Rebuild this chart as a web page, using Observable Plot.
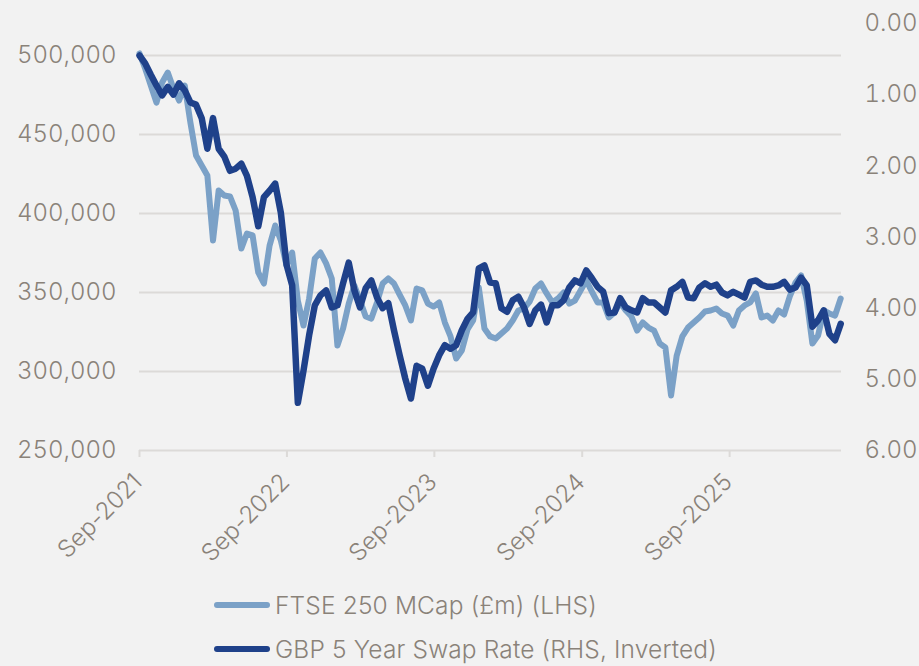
<!DOCTYPE html>
<html>
<head>
<meta charset="utf-8">
<script src="https://cdn.jsdelivr.net/npm/d3@7"></script>
<script src="https://cdn.jsdelivr.net/npm/@observablehq/plot@0.6"></script>
<style>
  html, body { margin: 0; padding: 0; background: #f2f2f2; }
  body { font-family: Inter, "DejaVu Sans", sans-serif; font-weight: 350; color: #8a8279; width: 919px; }
  #legend { padding-left: 214px; margin-top: 3px; }
  #legend .row { height: 44px; display: flex; align-items: center; font-size: 24.5px; letter-spacing: 0.15px; white-space: nowrap; }
  #legend .sw { width: 56px; height: 6px; border-radius: 3px; margin-right: 5px; flex: none; }
</style>
</head>
<body>
<div id="chart"></div>
<div id="legend"></div>
<script>
// Fortnightly observations starting 1 Sep 2021
const startDate = "2021-09-01";
const stepDays = 14;

// FTSE 250 market capitalisation, £m (left axis)
const ftseMcap = [
  501300, 491800, 481000, 470200, 482900, 489200, 479100, 471500, 481000, 457600,
  436700, 430400, 424000, 382900, 414600, 411400, 410800, 401900, 377800, 387300,
  386100, 362700, 355700, 379700, 392400, 382900, 367100, 375300, 344900, 329100,
  346200, 371500, 375300, 368400, 358900, 316500, 327200, 343000, 354400, 344900,
  334800, 333500, 343700, 355700, 358900, 355700, 348700, 341800, 332300, 352500,
  351300, 343000, 341100, 343700, 331000, 322200, 308200, 313300, 326600, 332300,
  353200, 327200, 322200, 320900, 324100, 327200, 332300, 338600, 339900, 344300,
  352500, 355700, 349400, 343700, 346200, 350000, 343000, 344900, 351300, 357600,
  350600, 343700, 343700, 334200, 337300, 343700, 338600, 334800, 325900, 331000,
  327800, 325900, 317700, 315200, 284800, 310100, 322200, 327800, 331000, 334200,
  338000, 338600, 339900, 336700, 335400, 329100, 338600, 341800, 343700, 349400,
  334200, 335400, 332300, 338600, 336100, 347500, 356300, 360800, 344900, 317700,
  322800, 338600, 336700, 335400, 346200
];

// GBP 5 year swap rate, % (right axis, inverted)
const swapRate = [
  0.45, 0.56, 0.72, 0.87, 1.01, 0.89, 1.00, 0.84, 0.94, 1.11,
  1.14, 1.33, 1.76, 1.33, 1.76, 1.87, 2.07, 2.04, 1.97, 2.14,
  2.44, 2.85, 2.44, 2.35, 2.25, 2.66, 3.39, 3.68, 5.33, 4.88,
  4.38, 3.96, 3.82, 3.75, 3.99, 3.96, 3.65, 3.36, 3.75, 3.99,
  3.72, 3.61, 3.85, 4.00, 3.93, 4.31, 4.66, 4.99, 5.27, 4.81,
  4.85, 5.09, 4.85, 4.66, 4.52, 4.57, 4.52, 4.31, 4.15, 4.06,
  3.44, 3.40, 3.64, 3.65, 4.00, 4.05, 3.89, 3.84, 3.99, 4.22,
  4.03, 3.95, 4.20, 3.96, 3.96, 3.89, 3.71, 3.61, 3.65, 3.47,
  3.58, 3.70, 3.77, 4.07, 4.06, 3.86, 3.99, 4.03, 4.06, 3.86,
  3.92, 3.92, 3.99, 4.06, 3.75, 3.70, 3.63, 3.85, 3.86, 3.71,
  3.65, 3.70, 3.67, 3.78, 3.82, 3.77, 3.81, 3.85, 3.63, 3.61,
  3.67, 3.70, 3.70, 3.68, 3.63, 3.74, 3.71, 3.57, 3.68, 4.26,
  4.17, 4.03, 4.36, 4.45, 4.22
];

// Axis ticks and labels
const leftTicks = [250000, 300000, 350000, 400000, 450000, 500000];
const rightTicks = [0, 1, 2, 3, 4, 5, 6];
const xTickDates = ["2021-09-01", "2022-09-01", "2023-09-01", "2024-09-01", "2025-09-01"];
const xTickLabels = ["Sep-2021", "Sep-2022", "Sep-2023", "Sep-2024", "Sep-2025"];

const seriesNames = ["FTSE 250 MCap (£m) (LHS)", "GBP 5 Year Swap Rate (RHS, Inverted)"];
const seriesColors = ["#7ba1c7", "#1f418a"];

const textColor = "#8a8279";
const gridColor = "#dcdad8";
const fontStack = "Inter, DejaVu Sans, sans-serif";

// Layout of the two vertical scales
const W = 919, H = 580;
const frame = {left: 139, right: 841, bottom: 450};
const leftDomain = [250000, 500000], leftRange = [450, 55];
const rightDomain = [0, 6], rightRange = [23, 450]; // inverted: 0 at top

const leftScale = d3.scaleLinear(leftDomain, leftRange);
const rightScale = d3.scaleLinear(rightDomain, rightRange);
const rateToLeft = r => leftScale.invert(rightScale(r));
const leftToRate = v => rightScale.invert(leftScale(v));

const t0 = new Date(startDate);
const ftseData = ftseMcap.map((v, i) => ({date: d3.utcDay.offset(t0, stepDays * i), value: v}));
const swapData = swapRate.map((v, i) => ({date: d3.utcDay.offset(t0, stepDays * i), value: v}));
const xTicks = xTickDates.map(s => new Date(s));

const chart = Plot.plot({
  width: W,
  height: H,
  marginLeft: frame.left,
  marginRight: W - frame.right,
  marginTop: 20,
  marginBottom: H - frame.bottom,
  style: {background: "#f2f2f2", fontFamily: fontStack, fontWeight: 350, fontSize: "23px", color: textColor, overflow: "visible"},
  x: {type: "utc", domain: [new Date("2021-09-01"), new Date("2026-06-05")], range: [frame.left, frame.right]},
  y: {domain: leftDomain, range: leftRange},
  marks: [
    Plot.ruleY(leftTicks, {stroke: gridColor, strokeWidth: 2}),
    Plot.axisX(xTicks, {tickSize: 7, tickFormat: () => "", stroke: gridColor, strokeWidth: 2, label: null}),
    Plot.text(xTicks, {
      x: d => d, frameAnchor: "bottom",
      text: (d, i) => xTickLabels[i],
      rotate: -45, textAnchor: "end", lineAnchor: "bottom",
      dx: 4, dy: 33, fontSize: 24, fill: textColor
    }),
    Plot.axisY(leftTicks, {
      anchor: "left", tickSize: 0, tickPadding: 23,
      tickFormat: d3.format(","), fontSize: 24, fill: textColor, label: null
    }),
    Plot.axisY(rightTicks.map(rateToLeft), {
      anchor: "right", tickSize: 0, tickPadding: 23,
      tickFormat: v => { const r = Math.round(leftToRate(v) * 100) / 100; return (r === 0 ? 0 : r).toFixed(2); },
      fontSize: 24, fill: textColor, label: null
    }),
    Plot.line(ftseData, {
      x: "date", y: "value", stroke: seriesColors[0], strokeWidth: 6,
      strokeLinejoin: "round", strokeLinecap: "round"
    }),
    Plot.line(swapData, {
      x: "date", y: d => rateToLeft(d.value), stroke: seriesColors[1], strokeWidth: 6.5,
      strokeLinejoin: "round", strokeLinecap: "round"
    })
  ]
});
document.getElementById("chart").appendChild(chart);

// Legend below the chart
const legend = document.getElementById("legend");
seriesNames.forEach((name, i) => {
  const row = document.createElement("div");
  row.className = "row";
  const sw = document.createElement("span");
  sw.className = "sw";
  sw.style.background = seriesColors[i];
  row.appendChild(sw);
  row.appendChild(document.createTextNode(name));
  legend.appendChild(row);
});
</script>
</body>
</html>
